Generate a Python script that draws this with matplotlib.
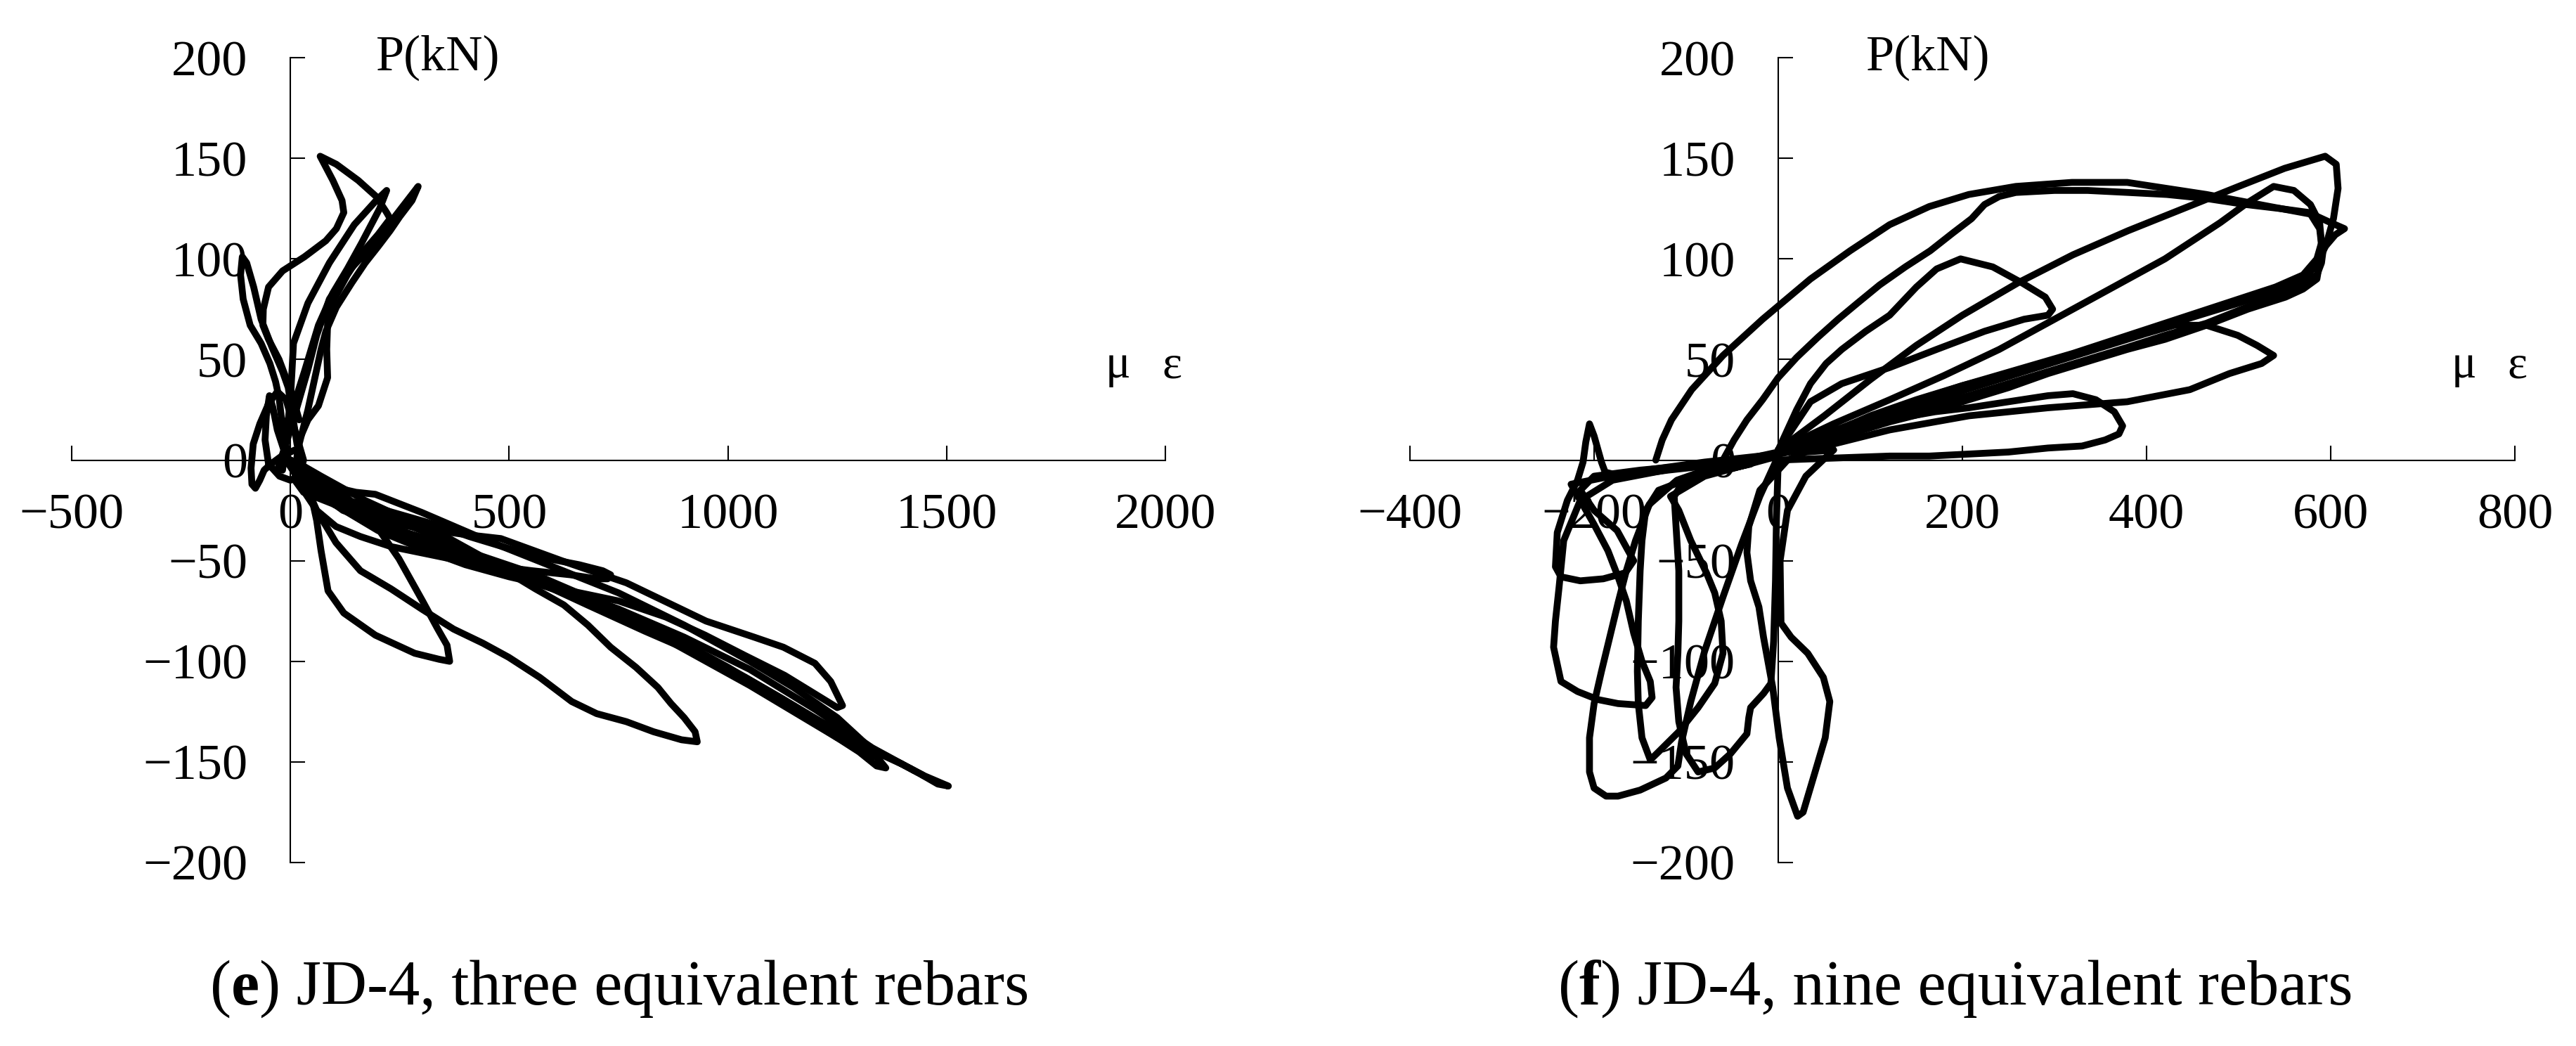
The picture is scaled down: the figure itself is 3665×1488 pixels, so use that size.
import matplotlib.pyplot as plt

# ---- panel (e): JD-4, three equivalent rebars (strain, load) ----
E1_X = [10, -20, -45, -60, -70, -80, -88, -90, -85, -70, -50, -30, -10, 10, 30, 20, 0, -25, -50, -58, -55, -48, -40, -30, -15, 0, 15, 5]
E1_Y = [5, 2, -2, -5, -10, -14, -12, -4, 8, 18, 28, 34, 30, 15, 0, -8, -10, -8, -2, 10, 22, 32, 26, 15, 5, -2, -6, -2]

E2_X = [-5, -12, -20, -26, -34, -47, -67, -92, -108, -114, -110, -100, -84, -67, -42, -18, -5, 5, 15, 30, 45, 60, 70, 86,
        122, 194, 284, 340, 364, 358, 337, 302, 248, 194, 122, 60, 20, -10]
E2_Y = [0, 10, 20, 31, 39, 48, 58, 67, 80, 92, 101, 98, 86, 70, 56, 44, 36, 22, 8, -5, -15, -30, -45, -65,
        -76, -87, -96, -99, -100, -92, -84, -70, -49, -32, -17, -8, -3, 0]

E3_X = [20, 0, -26, -50, -63, -62, -50, -18, 32, 81, 105, 122, 118, 97, 68, 105, 155, 196, 220, 228, 200, 160, 130, 100,
        85, 83, 85, 64, 40, 20, 14, 30, 60, 104, 160, 230, 300, 373, 440, 499, 570, 643, 700, 768, 830, 894, 930, 925,
        900, 870, 840, 790, 732, 680, 625, 560, 499, 430, 355, 290, 230, 170, 120, 70, 30, 0]
E3_Y = [20, 35, 50, 60, 67, 75, 86, 94, 101, 109, 115, 123, 129, 139, 151, 147, 139, 131, 123, 120, 112, 102, 92, 80,
        68, 55, 41, 27, 20, 10, 0, -10, -25, -41, -55, -64, -74, -84, -91, -98, -108, -120, -126, -130, -135, -139, -140, -135,
        -128, -121, -113, -103, -93, -82, -72, -64, -56, -47, -38, -32, -26, -20, -14, -8, -3, 0]

E4_X = [-18, -10, 0, 7, 40, 89, 146, 196, 220, 204, 163, 130, 97, 64, 32, 7, -18, -10, 20, 100, 194, 300, 400, 481,
        620, 768, 950, 1060, 1127, 1199, 1235, 1262, 1250, 1220, 1130, 1038, 948, 858, 750, 640, 500, 400, 300, 200, 100, 30, 0]
E4_Y = [-5, 10, 30, 58, 78, 98, 117, 129, 134, 125, 108, 95, 83, 67, 44, 27, 13, 0, -10, -22, -30, -34, -37, -39,
        -50, -61, -80, -88, -93, -101, -110, -122, -123, -119, -107, -97, -87, -78, -70, -65, -58, -52, -44, -35, -22, -8, 0]

E5_X = [-30, -15, 0, 20, 40, 60, 89, 125, 163, 200, 228, 260, 292, 278, 250, 228, 200, 171, 140, 105, 81, 70, 60, 40,
        20, 10, 30, 100, 194, 300, 409, 540, 679, 810, 948, 1040, 1127, 1220, 1307, 1397, 1450, 1504, 1480, 1440, 1330,
        1200, 1050, 900, 750, 600, 450, 300, 150, 50, 0]
E5_Y = [-5, 5, 15, 30, 45, 62, 80, 92, 101, 110, 118, 127, 136, 129, 121, 114, 106, 98, 88, 76, 64, 55, 45, 25,
        8, -10, -16, -22, -26, -35, -46, -58, -72, -85, -98, -108, -119, -131, -142, -151, -157, -162, -161, -156, -143,
        -124, -104, -88, -74, -62, -50, -40, -25, -10, 0]

E6_X = [0, 20, 60, 110, 150, 194, 300, 450, 600, 750, 900, 1050, 1150, 1250, 1320, 1361, 1340, 1300, 1200, 1100, 1000,
        900, 800, 700, 600, 500, 400, 300, 200, 120, 60, 20, 0]
E6_Y = [0, -5, -10, -14, -16, -17, -26, -40, -53, -66, -82, -100, -113, -128, -142, -153, -152, -145, -131, -117, -103,
        -91, -81, -72, -64, -57, -50, -42, -33, -24, -15, -6, 0]

E7_X = [0, 40, 120, 250, 400, 550, 700, 850, 1000, 1120, 1220, 1300, 1343, 1320, 1250, 1150, 1050, 950, 850, 750, 650,
        550, 450, 350, 250, 150, 80, 30, 0]
E7_Y = [0, -12, -25, -35, -45, -56, -70, -86, -103, -118, -131, -141, -148, -146, -138, -125, -112, -100, -88, -78, -68,
        -60, -52, -45, -37, -28, -18, -8, 0]

E8_X = [0, 40, 86, 170, 250, 330, 409, 500, 589, 660, 714, 732, 725, 700, 640, 553, 480, 409, 320, 230, 160, 104, 60, 20, 0]
E8_Y = [0, -10, -18, -22, -27, -32, -38, -44, -49, -52, -55, -57, -59, -59, -57, -55, -53, -51, -47, -43, -38, -33, -25, -12, 0]

# ---- panel (f): JD-4, nine equivalent rebars ----
F1_X = [-133, -126, -116, -94, -60, -17, 35, 78, 121, 164, 207, 258, 319, 379, 465, 534, 581, 600, 615, 605, 592, 590,
        585, 560, 520, 465, 420, 379, 336, 293, 250, 207, 164, 121, 78, 35, 0, -40, -80]
F1_Y = [0, 10, 20, 35, 52, 70, 90, 104, 117, 126, 132, 136, 138, 138, 132, 126, 122, 118, 115, 112, 105, 98,
        92, 86, 78, 68, 62, 56, 50, 44, 38, 32, 27, 21, 15, 9, 4, 0, -2]

F2_X = [-60, -48, -34, -17, 0, 20, 43, 65, 86, 110, 138, 165, 190, 210, 224, 240, 258, 300, 336, 380, 422, 465, 508,
        545, 577, 588, 590, 588, 585, 570, 551, 510, 465, 420, 379, 336, 293, 250, 207, 164, 121, 78, 35, 0]
F2_Y = [0, 10, 20, 30, 41, 51, 61, 70, 78, 87, 96, 104, 113, 120, 127, 131, 133, 134, 134, 133, 132, 130, 127,
        125, 123, 115, 107, 98, 90, 85, 81, 75, 67, 60, 55, 49, 43, 36, 30, 24, 19, 13, 8, 3]

F3_X = [0, 50, 100, 150, 200, 260, 320, 380, 440, 500, 550, 594, 606, 608, 603, 595, 585, 570, 540, 500, 450, 400,
        350, 300, 250, 200, 150, 100, 50, 0]
F3_Y = [5, 22, 40, 57, 72, 88, 102, 114, 125, 136, 145, 151, 147, 135, 120, 107, 97, 90, 84, 78, 71, 64,
        57, 50, 43, 37, 30, 22, 12, 5]

F4_X = [0, 60, 121, 180, 240, 300, 360, 420, 480, 510, 538, 560, 578, 588, 590, 585, 570, 540, 500, 440, 380, 320,
        260, 200, 140, 80, 30, 0]
F4_Y = [5, 18, 30, 42, 55, 70, 85, 100, 118, 128, 136, 134, 127, 118, 108, 100, 92, 86, 80, 71, 62, 53,
        45, 37, 28, 18, 9, 5]

F5_X = [0, 20, 35, 52, 69, 95, 121, 150, 172, 198, 233, 265, 290, 298, 293, 267, 224, 172, 121, 69, 35, 0]
F5_Y = [5, 25, 38, 48, 55, 64, 72, 86, 95, 100, 96, 88, 81, 75, 72, 70, 64, 55, 46, 38, 29, 5]

F6_X = [0, 60, 121, 190, 260, 330, 400, 430, 465, 499, 520, 538, 525, 490, 447, 379, 293, 207, 121, 60, 0]
F6_Y = [3, 12, 22, 33, 43, 53, 63, 67, 67, 62, 57, 52, 48, 43, 35, 29, 26, 22, 15, 8, 3]

F7_X = [0, 60, 121, 170, 207, 250, 293, 320, 345, 365, 374, 370, 355, 330, 293, 250, 207, 164, 121, 60, 0]
F7_Y = [3, 12, 20, 24, 26, 29, 32, 33, 30, 24, 17, 13, 10, 7, 6, 4, 3, 2, 2, 1, 0]

FN1_X = [0, -60, -120, -170, -188, -192, -200, -205, -209, -212, -218, -229, -240, -242, -236, -215, -190, -166, -157,
         -175, -200, -215, -200, -150, -80, 0]
FN1_Y = [2, -2, -5, -8, -6, -1, 12, 18, 9, -1, -10, -20, -36, -53, -58, -60, -59, -56, -50,
         -35, -25, -15, -8, -5, -2, 2]

FN2_X = [-100, -180, -215, -233, -238, -242, -244, -236, -218, -196, -174, -144, -137, -139, -148, -157, -165, -174,
         -185, -200, -215, -225, -160, -80, 0]
FN2_Y = [-3, -10, -20, -40, -63, -80, -93, -110, -115, -119, -121, -122, -118, -110, -100, -86, -70, -58,
         -45, -32, -20, -12, -6, -1, 3]

FN3_X = [-60, -110, -140, -155, -165, -174, -183, -192, -200, -205, -205, -200, -187, -174, -150, -122, -109, -105,
         -95, -80, -60, -40, -20, 0]
FN3_Y = [-2, -10, -22, -40, -55, -71, -88, -105, -121, -138, -155, -163, -167, -167, -164, -158, -152, -140,
         -120, -95, -68, -42, -18, 2]

FN4_X = [-30, -90, -130, -144, -148, -150, -152, -153, -152, -148, -139, -130, -108, -87, -69, -60, -62, -69, -78, -95,
         -108, -117, -80, 0]
FN4_Y = [-2, -8, -15, -25, -40, -55, -80, -105, -121, -138, -149, -145, -135, -123, -111, -96, -80, -66, -56, -40,
         -25, -18, -8, 2]

FN5_X = [-20, -80, -105, -113, -111, -108, -108, -109, -111, -108, -100, -87, -69, -52, -34, -32, -30, -16, -8, -5, -3, -2, 0]
FN5_Y = [0, -6, -12, -18, -33, -55, -80, -96, -113, -130, -146, -155, -153, -146, -136, -128, -123, -116, -111, -90, -60, -30, 0]

FN6_X = [60, 30, 10, -20, -32, -34, -30, -21, -16, -6, 1, 10, 21, 27, 40, 51, 56, 49, 32, 14, 3, 2, 10, 30, 60]
FN6_Y = [5, 4, 0, -15, -33, -46, -60, -73, -88, -113, -138, -163, -177, -175, -155, -138, -120, -108, -96, -88, -81, -50, -25, -8, 5]

E_CURVES = [(E1_X, E1_Y), (E2_X, E2_Y), (E3_X, E3_Y), (E4_X, E4_Y), (E5_X, E5_Y), (E6_X, E6_Y), (E7_X, E7_Y), (E8_X, E8_Y)]
F_CURVES = [(F1_X, F1_Y), (F2_X, F2_Y), (F3_X, F3_Y), (F4_X, F4_Y), (F5_X, F5_Y), (F6_X, F6_Y), (F7_X, F7_Y),
            (FN1_X, FN1_Y), (FN2_X, FN2_Y), (FN3_X, FN3_Y), (FN4_X, FN4_Y), (FN5_X, FN5_Y), (FN6_X, FN6_Y)]

E_XTICKS = [-500, 0, 500, 1000, 1500, 2000]
F_XTICKS = [-400, -200, 0, 200, 400, 600, 800]
YTICKS = [-200, -150, -100, -50, 0, 50, 100, 150, 200]

plt.rcParams['font.family'] = ['Liberation Serif', 'DejaVu Serif']
plt.rcParams['axes.unicode_minus'] = True

W, H = 3666, 1488
fig = plt.figure(figsize=(W / 100, H / 100), dpi=100)


def make_axes(left_px, right_px, xlim, xticks):
    ax = fig.add_axes([left_px / W, 1 - 1227 / H, (right_px - left_px) / W, (1227 - 82) / H])
    ax.set_xlim(*xlim)
    ax.set_ylim(-200, 200)
    for s in ('top', 'right'):
        ax.spines[s].set_visible(False)
    for s in ('left', 'bottom'):
        ax.spines[s].set_position(('data', 0))
        ax.spines[s].set_linewidth(1.5)
    ax.set_xticks(xticks)
    ax.set_yticks(YTICKS)
    ax.tick_params(direction='in', length=15, width=1.5, labelsize=52)
    ax.tick_params(axis='x', pad=34)
    ax.tick_params(axis='y', pad=44)
    ax.patch.set_alpha(0)
    return ax


ax1 = make_axes(102, 1658, (-500, 2000), E_XTICKS)
ax2 = make_axes(2006, 3578, (-400, 800), F_XTICKS)

for ax, curves in ((ax1, E_CURVES), (ax2, F_CURVES)):
    for xs, ys in curves:
        ax.plot(xs, ys, color='black', lw=7, solid_joinstyle='round', solid_capstyle='round', clip_on=False)

ax1.text(195, 194, 'P(kN)', fontsize=52, va='baseline')
ax1.text(1863, 41, 'μ', fontsize=48, va='baseline')
ax1.text(1992, 41, 'ε', fontsize=48, va='baseline')
ax2.text(95, 194, 'P(kN)', fontsize=52, va='baseline')
ax2.text(731, 41, 'μ', fontsize=48, va='baseline')
ax2.text(792, 41, 'ε', fontsize=48, va='baseline')


def caption(xc, y, tag, rest):
    parts = [('(', 'normal'), (tag, 'bold'), (') ' + rest, 'normal')]
    texts = [fig.text(0, y, s, fontsize=65, fontweight=w, va='baseline') for s, w in parts]
    fig.canvas.draw()
    r = fig.canvas.get_renderer()
    widths = [t.get_window_extent(r).width for t in texts]
    x = xc * W - sum(widths) / 2
    for t, w in zip(texts, widths):
        t.set_x(x / W)
        x += w


caption(882 / W, 1 - 1429 / H, 'e', 'JD-4, three equivalent rebars')
caption(2782 / W, 1 - 1429 / H, 'f', 'JD-4, nine equivalent rebars')

fig.savefig('out.png', dpi=100, facecolor='white')
